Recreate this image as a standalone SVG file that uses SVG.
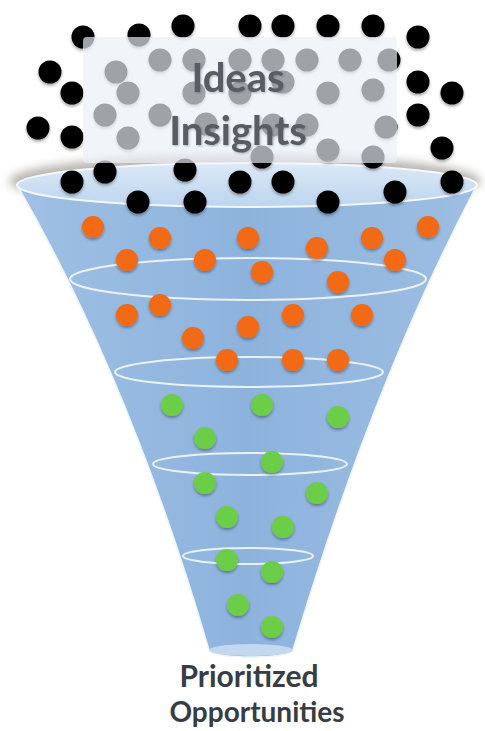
<svg xmlns="http://www.w3.org/2000/svg" width="485" height="731" viewBox="0 0 485 731">
  <defs>
    <style>
      .ring { fill: none; stroke: #f4f8fc; stroke-width: 2; opacity: 0.9; }
      .blk { fill: #050505; }
      .org { fill: #f26a12; }
      .grn { fill: #6ccd47; }
      .dot { filter: url(#shadow); }
      .lbl { font-family: Lato, "Open Sans", "Liberation Sans", sans-serif; font-weight: bold; text-anchor: middle; }
    </style>
    <filter id="shadow" x="-50%" y="-50%" width="200%" height="200%">
      <feDropShadow dx="0" dy="2" stdDeviation="1.5" flood-color="#000" flood-opacity="0.35"/>
    </filter>
    <filter id="soft" x="-20%" y="-50%" width="140%" height="200%">
      <feGaussianBlur stdDeviation="5"/>
    </filter>
    <filter id="txtShadow" x="-10%" y="-20%" width="120%" height="140%">
      <feDropShadow dx="1" dy="1" stdDeviation="0.8" flood-color="#3a4a60" flood-opacity="0.4"/>
    </filter>
    <linearGradient id="body" x1="0" y1="0" x2="1" y2="0">
      <stop offset="0" stop-color="#a0c0e4"/>
      <stop offset="0.5" stop-color="#8db3dd"/>
      <stop offset="1" stop-color="#9ebee3"/>
    </linearGradient>
    <linearGradient id="rimFill" x1="0" y1="0" x2="0" y2="1">
      <stop offset="0" stop-color="#dce9f7"/>
      <stop offset="1" stop-color="#bcd5ef"/>
    </linearGradient>
  </defs>

  <!-- funnel -->
  <g id="funnel">
    <ellipse cx="245" cy="181" rx="236" ry="26" fill="#7d766c" opacity="0.55" filter="url(#soft)"/>
    <path d="M17,185 Q131,382 209,650 A42,7 0 0 0 293,650 Q373,382 477,185 Z" fill="url(#body)" stroke="#eef4fa" stroke-width="1.5"/>
    <ellipse cx="251" cy="650" rx="42" ry="6" fill="#c9dcf0" opacity="0.9"/>
    <ellipse class="ring" cx="248" cy="279" rx="178" ry="21"/>
    <ellipse class="ring" cx="249" cy="372" rx="134" ry="15"/>
    <ellipse class="ring" cx="250" cy="464" rx="97" ry="11"/>
    <ellipse class="ring" cx="248" cy="556" rx="65" ry="8"/>
    <ellipse cx="247" cy="185" rx="230" ry="22" fill="url(#rimFill)" stroke="#f4f8fc" stroke-width="2"/>
  </g>

  <!-- orange ideas -->
  <g id="orange-dots" class="dot">
    <circle class="org" cx="93" cy="227" r="11"/>
    <circle class="org" cx="160" cy="238" r="11"/>
    <circle class="org" cx="248" cy="238" r="11"/>
    <circle class="org" cx="317" cy="248" r="11"/>
    <circle class="org" cx="372" cy="238" r="11"/>
    <circle class="org" cx="428" cy="227" r="11"/>
    <circle class="org" cx="127" cy="260" r="11"/>
    <circle class="org" cx="205" cy="260" r="11"/>
    <circle class="org" cx="262" cy="272" r="11"/>
    <circle class="org" cx="395" cy="260" r="11"/>
    <circle class="org" cx="338" cy="282" r="11"/>
    <circle class="org" cx="160" cy="305" r="11"/>
    <circle class="org" cx="127" cy="315" r="11"/>
    <circle class="org" cx="293" cy="315" r="11"/>
    <circle class="org" cx="362" cy="315" r="11"/>
    <circle class="org" cx="248" cy="327" r="11"/>
    <circle class="org" cx="193" cy="338" r="11"/>
    <circle class="org" cx="227" cy="360" r="11"/>
    <circle class="org" cx="293" cy="360" r="11"/>
    <circle class="org" cx="338" cy="360" r="11"/>
  </g>

  <!-- green opportunities -->
  <g id="green-dots" class="dot">
    <circle class="grn" cx="172" cy="405" r="11"/>
    <circle class="grn" cx="262" cy="405" r="11"/>
    <circle class="grn" cx="338" cy="417" r="11"/>
    <circle class="grn" cx="205" cy="438" r="11"/>
    <circle class="grn" cx="272" cy="462" r="11"/>
    <circle class="grn" cx="205" cy="483" r="11"/>
    <circle class="grn" cx="317" cy="493" r="11"/>
    <circle class="grn" cx="227" cy="517" r="11"/>
    <circle class="grn" cx="283" cy="527" r="11"/>
    <circle class="grn" cx="227" cy="560" r="11"/>
    <circle class="grn" cx="272" cy="572" r="11"/>
    <circle class="grn" cx="238" cy="605" r="11"/>
    <circle class="grn" cx="272" cy="627" r="11"/>
  </g>

  <!-- raw ideas entering the funnel -->
  <g id="black-dots" class="dot">
    <circle class="blk" cx="83" cy="37" r="11.5"/>
    <circle class="blk" cx="139" cy="35" r="11.5"/>
    <circle class="blk" cx="183" cy="26" r="11.5"/>
    <circle class="blk" cx="250" cy="26" r="11.5"/>
    <circle class="blk" cx="283" cy="26" r="11.5"/>
    <circle class="blk" cx="328" cy="26" r="11.5"/>
    <circle class="blk" cx="373" cy="26" r="11.5"/>
    <circle class="blk" cx="418" cy="37" r="11.5"/>
    <circle class="blk" cx="50" cy="72" r="11.5"/>
    <circle class="blk" cx="72" cy="93" r="11.5"/>
    <circle class="blk" cx="418" cy="82" r="11.5"/>
    <circle class="blk" cx="452" cy="93" r="11.5"/>
    <circle class="blk" cx="38" cy="128" r="11.5"/>
    <circle class="blk" cx="72" cy="137" r="11.5"/>
    <circle class="blk" cx="418" cy="115" r="11.5"/>
    <circle class="blk" cx="442" cy="148" r="11.5"/>
    <circle class="blk" cx="72" cy="182" r="11.5"/>
    <circle class="blk" cx="105" cy="172" r="11.5"/>
    <circle class="blk" cx="185" cy="170" r="11.5"/>
    <circle class="blk" cx="240" cy="182" r="11.5"/>
    <circle class="blk" cx="283" cy="182" r="11.5"/>
    <circle class="blk" cx="452" cy="182" r="11.5"/>
    <circle class="blk" cx="138" cy="202" r="11.5"/>
    <circle class="blk" cx="195" cy="202" r="11.5"/>
    <circle class="blk" cx="328" cy="202" r="11.5"/>
    <circle class="blk" cx="395" cy="192" r="11.5"/>
    <!-- dots seen through the label panel -->
    <circle class="blk" cx="116" cy="72" r="11.5"/>
    <circle class="blk" cx="160" cy="60" r="11.5"/>
    <circle class="blk" cx="194" cy="60" r="11.5"/>
    <circle class="blk" cx="240" cy="60" r="11.5"/>
    <circle class="blk" cx="273" cy="60" r="11.5"/>
    <circle class="blk" cx="307" cy="60" r="11.5"/>
    <circle class="blk" cx="350" cy="60" r="11.5"/>
    <circle class="blk" cx="389" cy="60" r="11.5"/>
    <circle class="blk" cx="128" cy="93" r="11.5"/>
    <circle class="blk" cx="194" cy="93" r="11.5"/>
    <circle class="blk" cx="240" cy="93" r="11.5"/>
    <circle class="blk" cx="283" cy="82" r="11.5"/>
    <circle class="blk" cx="328" cy="93" r="11.5"/>
    <circle class="blk" cx="373" cy="90" r="11.5"/>
    <circle class="blk" cx="105" cy="115" r="11.5"/>
    <circle class="blk" cx="160" cy="115" r="11.5"/>
    <circle class="blk" cx="206" cy="124" r="11.5"/>
    <circle class="blk" cx="273" cy="125" r="11.5"/>
    <circle class="blk" cx="307" cy="125" r="11.5"/>
    <circle class="blk" cx="386" cy="127" r="11.5"/>
    <circle class="blk" cx="128" cy="138" r="11.5"/>
    <circle class="blk" cx="262" cy="157" r="11.5"/>
    <circle class="blk" cx="328" cy="150" r="11.5"/>
    <circle class="blk" cx="373" cy="157" r="11.5"/>
  </g>

  <!-- label panel -->
  <g id="ideas-panel">
    <rect x="83" y="37" width="314" height="126" rx="4" fill="#eaeff6" opacity="0.68"/>
    <text class="lbl" x="238" y="92" font-size="40" fill="#595c63" filter="url(#txtShadow)">Ideas</text>
    <text class="lbl" x="238" y="145" font-size="40" fill="#595c63" filter="url(#txtShadow)">Insights</text>
  </g>

  <!-- output label -->
  <g id="output-label">
    <text class="lbl" x="249" y="687" font-size="30" fill="#383c44">Prioritized</text>
    <text class="lbl" x="257" y="722" font-size="28" fill="#383c44">Opportunities</text>
  </g>
</svg>
